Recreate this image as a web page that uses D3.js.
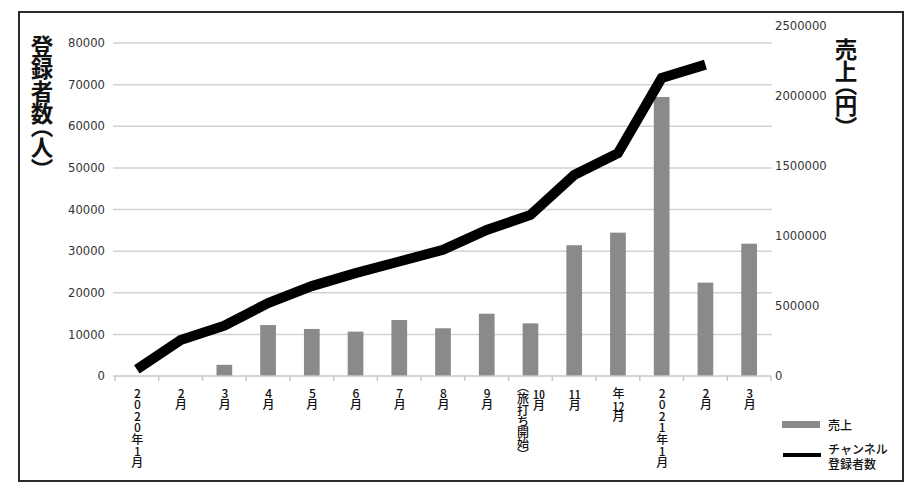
<!DOCTYPE html>
<html><head><meta charset="utf-8">
<script src="https://cdn.jsdelivr.net/npm/d3@7"></script>
<style>
body{margin:0;background:#fff}
#wrap{position:relative;width:918px;height:495px}
svg{display:block;position:absolute;left:0;top:0}
.xl{position:absolute;writing-mode:vertical-rl;text-orientation:upright;font-family:'Noto Sans CJK JP',sans-serif;
  font-size:12px;font-weight:500;color:#111;line-height:16px;letter-spacing:-0.4px;white-space:pre;
  font-feature-settings:'vpal';transform:translateX(-50%)}
.tcu{text-combine-upright:all;letter-spacing:0}
.lg{position:absolute;font-family:'Noto Sans CJK JP',sans-serif;font-size:12px;font-weight:500;color:#111;
  line-height:15px;white-space:pre}
</style>
</head><body>
<div id="wrap"></div>
<script>
// ---- data ----
const categories = ["2020年1月","2月","3月","4月","5月","6月","7月","8月","9月","10月\n（旅打ち開始）","11月","年12月","2021年1月","2月","3月"];
const sales = [0,0,80000,364000,336000,317000,400000,341000,445000,376000,934000,1024000,1993000,667000,945000];
const subscribers = [1600,8650,12100,17500,21600,24700,27500,30300,35100,38700,48300,53500,71600,74800,null];
const leftTicks = [0,10000,20000,30000,40000,50000,60000,70000,80000];
const rightTicks = [0,500000,1000000,1500000,2000000,2500000];
const leftTitle = "登録者数（人）";
const rightTitle = "売上（円）";
const legendItems = [{name:"売上", type:"bar"}, {name:"チャンネル\n登録者数", type:"line"}];

// ---- drawing ----
const W = 918, H = 495;
const wrap = d3.select("#wrap");
const svg = wrap.append("svg").attr("width", W).attr("height", H);
const CJK = "'Noto Sans CJK JP','Noto Sans',sans-serif";
const NUM = "'DejaVu Sans','Liberation Sans',sans-serif";

const x = d3.scaleBand().domain(d3.range(categories.length)).range([115, 771]).padding(0);
const yL = d3.scaleLinear().domain([0, 80000]).range([376, 43]);
const yR = d3.scaleLinear().domain([0, 2500000]).range([376, 26]);

// border
svg.append("rect").attr("x", 19).attr("y", 12).attr("width", 884).attr("height", 469)
  .attr("fill", "none").attr("stroke", "#2a2a2a").attr("stroke-width", 2);

// gridlines
svg.append("g").selectAll("line").data(leftTicks.filter(d => d > 0)).join("line")
  .attr("x1", 113).attr("x2", 772).attr("y1", d => yL(d)).attr("y2", d => yL(d))
  .attr("stroke", "#d2d2d2").attr("stroke-width", 1.5);

// left tick labels
svg.append("g").selectAll("text").data(leftTicks).join("text")
  .attr("x", 105).attr("y", d => yL(d)).attr("dy", "0.36em").attr("text-anchor", "end")
  .attr("font-family", NUM).attr("font-size", 11.6).attr("fill", "#333").text(d => d);

// right tick labels
svg.append("g").selectAll("text").data(rightTicks).join("text")
  .attr("x", 775).attr("y", d => yR(d)).attr("dy", "0.36em").attr("text-anchor", "start")
  .attr("font-family", NUM).attr("font-size", 11.6).attr("fill", "#333").text(d => d);

// bars
const bw = 15.7;
svg.append("g").selectAll("rect").data(sales).join("rect")
  .attr("x", (d, i) => x(i) + x.bandwidth() / 2 - bw / 2)
  .attr("y", d => yR(d)).attr("width", bw).attr("height", d => yR(0) - yR(d))
  .attr("fill", "#8a8a8a");

// x axis
const bounds = d3.range(categories.length).map(i => x(i)).concat([x.range()[1]]);
const ax = svg.append("g");
ax.append("line").attr("x1", 113).attr("x2", 771).attr("y1", yL(0)).attr("y2", yL(0))
  .attr("stroke", "#c8c8c8").attr("stroke-width", 1.5);
ax.selectAll("line.t").data(bounds).join("line").attr("class", "t")
  .attr("x1", d => d).attr("x2", d => d).attr("y1", yL(0)).attr("y2", yL(0) + 5)
  .attr("stroke", "#c8c8c8").attr("stroke-width", 1.5);

// line
const line = d3.line().defined(d => d != null)
  .x((d, i) => x(i) + x.bandwidth() / 2).y(d => yL(d));
svg.append("path").datum(subscribers).attr("d", line)
  .attr("fill", "none").attr("stroke", "#000").attr("stroke-width", 10)
  .attr("stroke-linejoin", "miter").attr("stroke-linecap", "butt");

// x labels (vertical writing in HTML, two-digit numbers set horizontally)
categories.forEach((lab, i) => {
  const cx = x(i) + x.bandwidth() / 2;
  const div = wrap.append("div").attr("class", "xl")
    .style("left", cx + "px").style("top", "387px");
  const parts = lab.split(/(\d+)/).filter(p => p !== "");
  parts.forEach(p => {
    if (/^\d\d$/.test(p)) div.append("span").attr("class", "tcu").text(p);
    else div.append("span").text(p);
  });
});

// titles
svg.append("text").attr("x", 42).attr("y", 35)
  .style("writing-mode", "vertical-rl").style("font-feature-settings", "'vpal'")
  .attr("font-family", CJK).attr("font-size", 22.5).attr("font-weight", 700).attr("fill", "#111")
  .text(leftTitle);
svg.append("text").attr("x", 846).attr("y", 38)
  .style("writing-mode", "vertical-rl").style("font-feature-settings", "'vpal'")
  .attr("font-family", CJK).attr("font-size", 22.5).attr("font-weight", 700).attr("fill", "#111")
  .text(rightTitle);

// legend
legendItems.forEach((it, i) => {
  if (it.type === "bar") {
    svg.append("rect").attr("x", 782).attr("y", 421).attr("width", 38).attr("height", 7).attr("fill", "#8a8a8a");
    wrap.append("div").attr("class", "lg").style("left", "828px").style("top", "417px").text(it.name);
  } else {
    svg.append("line").attr("x1", 783).attr("x2", 821).attr("y1", 455).attr("y2", 455)
      .attr("stroke", "#000").attr("stroke-width", 4);
    wrap.append("div").attr("class", "lg").style("left", "828px").style("top", "440.5px").text(it.name);
  }
});
</script>
</body></html>
